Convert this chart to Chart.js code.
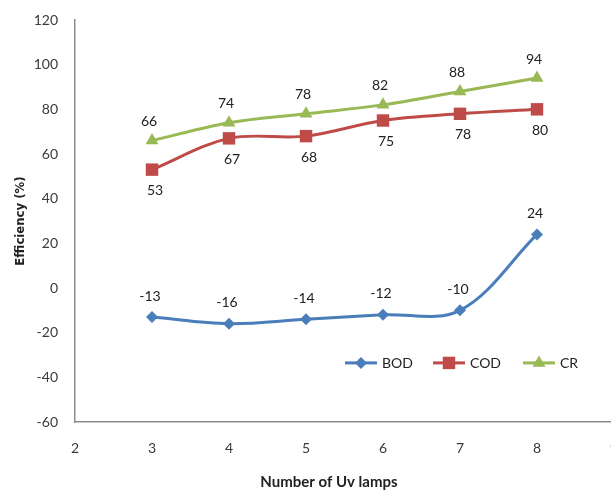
<!DOCTYPE html>
<html>
<head>
<meta charset="utf-8">
<script src="https://cdn.jsdelivr.net/npm/chart.js@4/dist/chart.umd.min.js"></script>
<style>
  html, body { margin: 0; padding: 0; background: #fff; overflow: hidden; }
  #wrap { width: 640px; height: 491px; }
</style>
</head>
<body>
<div id="wrap"><canvas id="c" width="640" height="491"></canvas></div>
<script>
// Removal efficiency against number of UV lamps
const lamps = [3, 4, 5, 6, 7, 8];
const bod = [-13, -16, -14, -12, -10, 24];
const cod = [53, 67, 68, 75, 78, 80];
const cr  = [66, 74, 78, 82, 88, 94];
const seriesNames = ['BOD', 'COD', 'CR'];
const xTitle = 'Number of Uv lamps';
const yTitle = 'Efficiency (%)';

const FONT = 'Lato, "Open Sans", "Liberation Sans", sans-serif';
const NARROW = '"Liberation Sans Narrow", "DejaVu Sans Condensed", Lato, sans-serif';
const TEXT = '#3a3a3a';
const AXIS = '#8c8c8c';

// plot box edges inside the canvas
const PLOT = { left: 75, top: 20, right: 614, bottom: 422 };

function pts(ys) { return lamps.map((x, i) => ({ x: x, y: ys[i] })); }

// value labels next to each point; dy: vertical shift from the point
const labelPlugin = {
  id: 'valueLabels',
  afterDatasetsDraw(chart) {
    const ctx = chart.ctx;
    ctx.save();
    ctx.font = '14px ' + FONT;
    ctx.fillStyle = '#222';
    ctx.textAlign = 'center';
    ctx.textBaseline = 'middle';
    chart.data.datasets.forEach((ds, di) => {
      const meta = chart.getDatasetMeta(di);
      meta.data.forEach((el, i) => {
        const v = ds.data[i].y;
        ctx.fillText(String(v), el.x + ds.labelDx, el.y + ds.labelDy);
      });
    });
    ctx.restore();
  }
};

function drawMarker(ctx, style, x, y, r, color) {
  ctx.fillStyle = color;
  ctx.beginPath();
  if (style === 'rectRot') {
    ctx.moveTo(x, y - r); ctx.lineTo(x + r, y); ctx.lineTo(x, y + r); ctx.lineTo(x - r, y);
  } else if (style === 'rect') {
    const s = r * Math.SQRT1_2;
    ctx.rect(x - s, y - s, 2 * s, 2 * s);
  } else {
    ctx.moveTo(x, y - r);
    ctx.lineTo(x + r * Math.sin(2 * Math.PI / 3), y - r * Math.cos(2 * Math.PI / 3));
    ctx.lineTo(x + r * Math.sin(4 * Math.PI / 3), y - r * Math.cos(4 * Math.PI / 3));
  }
  ctx.closePath();
  ctx.fill();
}

// legend drawn inside the plot area, lower right
const legendPlugin = {
  id: 'innerLegend',
  afterDraw(chart) {
    const ctx = chart.ctx;
    const area = chart.chartArea;
    const y = area.top + (area.bottom - area.top) * 0.853;
    const starts = [345, 433, 523];
    ctx.save();
    ctx.font = '14px ' + FONT;
    ctx.textBaseline = 'middle';
    ctx.textAlign = 'left';
    chart.data.datasets.forEach((ds, i) => {
      const x0 = starts[i];
      ctx.strokeStyle = ds.borderColor;
      ctx.lineWidth = ds.borderWidth;
      ctx.beginPath();
      ctx.moveTo(x0, y);
      ctx.lineTo(x0 + 32, y);
      ctx.stroke();
      drawMarker(ctx, ds.pointStyle, x0 + 16, y, ds.pointRadius, ds.pointBackgroundColor);
      ctx.fillStyle = '#222';
      ctx.fillText(ds.label, x0 + 37, y + 1);
    });
    ctx.restore();
  }
};

// x axis title, centred under the visible part of the figure
const xTitlePlugin = {
  id: 'xTitle',
  afterDraw(chart) {
    const ctx = chart.ctx;
    ctx.save();
    ctx.font = 'bold 15px ' + FONT;
    ctx.fillStyle = '#222';
    ctx.textAlign = 'center';
    ctx.textBaseline = 'middle';
    ctx.fillText(xTitle, 329, 482);
    ctx.restore();
  }
};

new Chart(document.getElementById('c'), {
  type: 'line',
  data: {
    datasets: [
      {
        label: seriesNames[0], data: pts(bod),
        borderColor: '#4a7ebb', backgroundColor: '#4a7ebb',
        pointBackgroundColor: '#4a7ebb', pointBorderWidth: 0,
        pointStyle: 'rectRot', pointRadius: 6, borderWidth: 3,
        labelDx: -2, labelDy: -21
      },
      {
        label: seriesNames[1], data: pts(cod),
        borderColor: '#be4b48', backgroundColor: '#be4b48',
        pointBackgroundColor: '#be4b48', pointBorderWidth: 0,
        pointStyle: 'rect', pointRadius: 8.8, borderWidth: 3,
        labelDx: 3, labelDy: 21
      },
      {
        label: seriesNames[2], data: pts(cr),
        borderColor: '#98b954', backgroundColor: '#98b954',
        pointBackgroundColor: '#98b954', pointBorderWidth: 0,
        pointStyle: 'triangle', pointRadius: 7.5, borderWidth: 3,
        labelDx: -3, labelDy: -19
      }
    ]
  },
  options: {
    responsive: false,
    animation: false,
    layout: { padding: { left: 0, right: 640 - PLOT.right, top: PLOT.top, bottom: 0 } },
    elements: { line: { tension: 0.35 } },
    plugins: { legend: { display: false }, tooltip: { enabled: false } },
    scales: {
      x: {
        type: 'linear', min: 2, max: 9,
        ticks: { stepSize: 1, padding: 18, color: TEXT, font: { family: FONT, size: 14 } },
        grid: { display: false, drawTicks: false },
        border: { display: true, color: AXIS, width: 1.5 },
        afterFit(s) { s.height = 491 - PLOT.bottom; }
      },
      y: {
        min: -60, max: 120,
        ticks: { stepSize: 20, padding: 17, color: TEXT, font: { family: FONT, size: 14 } },
        grid: { display: false, drawTicks: false },
        border: { display: true, color: AXIS, width: 1.5 },
        title: { display: true, text: yTitle, color: '#222', font: { family: NARROW, size: 13, weight: 'bold' }, padding: { top: 13, bottom: 0 } },
        afterFit(s) { s.width = PLOT.left; }
      }
    }
  },
  plugins: [labelPlugin, legendPlugin, xTitlePlugin, {
    // pin the plot box so the axes land on fixed pixels
    id: 'pinArea',
    afterLayout(chart) {
      const a = chart.chartArea;
      a.top = PLOT.top; a.bottom = PLOT.bottom; a.left = PLOT.left; a.right = PLOT.right;
      a.width = a.right - a.left; a.height = a.bottom - a.top;
      const y = chart.scales.y, x = chart.scales.x;
      y.top = PLOT.top; y.bottom = PLOT.bottom; y.height = y.bottom - y.top;
      y.configure();
      x.left = PLOT.left; x.right = PLOT.right; x.width = x.right - x.left;
      x.configure();
    }
  }]
});
</script>
</body>
</html>
